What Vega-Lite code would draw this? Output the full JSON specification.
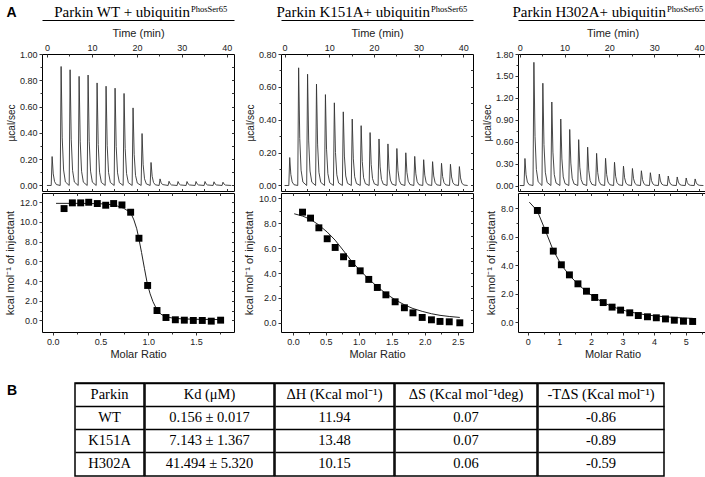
{
"$schema": "https://vega.github.io/schema/vega-lite/v6.json",
"padding": {"left": 3, "top": 0, "right": 0, "bottom": 0},
"background": "white",
"spacing": 22,
"config": {
  "view": {"stroke": "black", "strokeWidth": 1},
  "font": "Liberation Sans",
  "axis": {"labelFont": "Liberation Sans", "labelFontSize": 9, "labelColor": "#222222", "titleFont": "Liberation Sans", "titleFontSize": 11, "titleFontWeight": "normal", "titleColor": "#222222", "domain": false, "tickColor": "#333333", "tickSize": 3, "labelPadding": 2, "grid": false, "labelFlush": false, "labelOverlap": false}
},
"datasets": {
  "wt_raw": [{"t":0,"v":0},{"t":0.95,"v":0},{"t":1.15,"v":0.22},{"t":1.4,"v":0.088},{"t":1.7,"v":0.029},{"t":2.1,"v":0.007},{"t":2.95,"v":0},{"t":3.15,"v":0.905},{"t":3.4,"v":0.362},{"t":3.7,"v":0.118},{"t":4.1,"v":0.027},{"t":4.95,"v":0},{"t":5.15,"v":0.88},{"t":5.4,"v":0.352},{"t":5.7,"v":0.114},{"t":6.1,"v":0.026},{"t":6.95,"v":0},{"t":7.15,"v":0.83},{"t":7.4,"v":0.332},{"t":7.7,"v":0.108},{"t":8.1,"v":0.025},{"t":8.95,"v":0},{"t":9.15,"v":0.84},{"t":9.4,"v":0.336},{"t":9.7,"v":0.109},{"t":10.1,"v":0.025},{"t":10.95,"v":0},{"t":11.15,"v":0.78},{"t":11.4,"v":0.312},{"t":11.7,"v":0.101},{"t":12.1,"v":0.023},{"t":12.95,"v":0},{"t":13.15,"v":0.755},{"t":13.4,"v":0.302},{"t":13.7,"v":0.098},{"t":14.1,"v":0.023},{"t":14.95,"v":0},{"t":15.15,"v":0.74},{"t":15.4,"v":0.296},{"t":15.7,"v":0.096},{"t":16.1,"v":0.022},{"t":16.95,"v":0},{"t":17.15,"v":0.7},{"t":17.4,"v":0.28},{"t":17.7,"v":0.091},{"t":18.1,"v":0.021},{"t":18.95,"v":0},{"t":19.15,"v":0.59},{"t":19.4,"v":0.236},{"t":19.7,"v":0.077},{"t":20.1,"v":0.018},{"t":20.95,"v":0},{"t":21.15,"v":0.395},{"t":21.4,"v":0.158},{"t":21.7,"v":0.051},{"t":22.1,"v":0.012},{"t":22.95,"v":0},{"t":23.15,"v":0.175},{"t":23.4,"v":0.07},{"t":23.7,"v":0.023},{"t":24.1,"v":0.005},{"t":24.95,"v":0},{"t":25.15,"v":0.05},{"t":25.4,"v":0.02},{"t":25.7,"v":0.007},{"t":26.95,"v":0},{"t":27.15,"v":0.032},{"t":27.4,"v":0.013},{"t":27.7,"v":0.004},{"t":28.95,"v":0},{"t":29.15,"v":0.03},{"t":29.4,"v":0.012},{"t":29.7,"v":0.004},{"t":30.95,"v":0},{"t":31.15,"v":0.03},{"t":31.4,"v":0.012},{"t":31.7,"v":0.004},{"t":32.95,"v":0},{"t":33.15,"v":0.03},{"t":33.4,"v":0.012},{"t":33.7,"v":0.004},{"t":34.95,"v":0},{"t":35.15,"v":0.03},{"t":35.4,"v":0.012},{"t":35.7,"v":0.004},{"t":36.95,"v":0},{"t":37.15,"v":0.028},{"t":37.4,"v":0.011},{"t":37.7,"v":0.004},{"t":38.95,"v":0},{"t":39.15,"v":0.025},{"t":39.4,"v":0.01},{"t":39.7,"v":0.003},{"t":41,"v":0}],
  "k_raw": [{"t":0,"v":0},{"t":0.95,"v":0},{"t":1.15,"v":0.17},{"t":1.4,"v":0.068},{"t":1.7,"v":0.022},{"t":2.1,"v":0.005},{"t":2.95,"v":0},{"t":3.15,"v":0.716},{"t":3.4,"v":0.286},{"t":3.7,"v":0.093},{"t":4.1,"v":0.021},{"t":4.95,"v":0},{"t":5.15,"v":0.677},{"t":5.4,"v":0.271},{"t":5.7,"v":0.088},{"t":6.1,"v":0.02},{"t":6.95,"v":0},{"t":7.15,"v":0.617},{"t":7.4,"v":0.247},{"t":7.7,"v":0.08},{"t":8.1,"v":0.019},{"t":8.95,"v":0},{"t":9.15,"v":0.553},{"t":9.4,"v":0.221},{"t":9.7,"v":0.072},{"t":10.1,"v":0.017},{"t":10.95,"v":0},{"t":11.15,"v":0.503},{"t":11.4,"v":0.201},{"t":11.7,"v":0.065},{"t":12.1,"v":0.015},{"t":12.95,"v":0},{"t":13.15,"v":0.448},{"t":13.4,"v":0.179},{"t":13.7,"v":0.058},{"t":14.1,"v":0.013},{"t":14.95,"v":0},{"t":15.15,"v":0.404},{"t":15.4,"v":0.162},{"t":15.7,"v":0.053},{"t":16.1,"v":0.012},{"t":16.95,"v":0},{"t":17.15,"v":0.364},{"t":17.4,"v":0.146},{"t":17.7,"v":0.047},{"t":18.1,"v":0.011},{"t":18.95,"v":0},{"t":19.15,"v":0.322},{"t":19.4,"v":0.129},{"t":19.7,"v":0.042},{"t":20.1,"v":0.01},{"t":20.95,"v":0},{"t":21.15,"v":0.283},{"t":21.4,"v":0.113},{"t":21.7,"v":0.037},{"t":22.1,"v":0.008},{"t":22.95,"v":0},{"t":23.15,"v":0.253},{"t":23.4,"v":0.101},{"t":23.7,"v":0.033},{"t":24.1,"v":0.008},{"t":24.95,"v":0},{"t":25.15,"v":0.225},{"t":25.4,"v":0.09},{"t":25.7,"v":0.029},{"t":26.1,"v":0.007},{"t":26.95,"v":0},{"t":27.15,"v":0.199},{"t":27.4,"v":0.08},{"t":27.7,"v":0.026},{"t":28.1,"v":0.006},{"t":28.95,"v":0},{"t":29.15,"v":0.177},{"t":29.4,"v":0.071},{"t":29.7,"v":0.023},{"t":30.1,"v":0.005},{"t":30.95,"v":0},{"t":31.15,"v":0.157},{"t":31.4,"v":0.063},{"t":31.7,"v":0.02},{"t":32.1,"v":0.005},{"t":32.95,"v":0},{"t":33.15,"v":0.145},{"t":33.4,"v":0.058},{"t":33.7,"v":0.019},{"t":34.1,"v":0.004},{"t":34.95,"v":0},{"t":35.15,"v":0.135},{"t":35.4,"v":0.054},{"t":35.7,"v":0.018},{"t":36.1,"v":0.004},{"t":36.95,"v":0},{"t":37.15,"v":0.129},{"t":37.4,"v":0.052},{"t":37.7,"v":0.017},{"t":38.1,"v":0.004},{"t":38.95,"v":0},{"t":39.15,"v":0.115},{"t":39.4,"v":0.046},{"t":39.7,"v":0.015},{"t":40.1,"v":0.003},{"t":41,"v":0}],
  "h_raw": [{"t":0,"v":0},{"t":0.95,"v":0},{"t":1.15,"v":0.37},{"t":1.4,"v":0.148},{"t":1.7,"v":0.048},{"t":2.1,"v":0.011},{"t":2.95,"v":0},{"t":3.15,"v":1.686},{"t":3.4,"v":0.674},{"t":3.7,"v":0.219},{"t":4.1,"v":0.051},{"t":4.95,"v":0},{"t":5.15,"v":1.4},{"t":5.4,"v":0.56},{"t":5.7,"v":0.182},{"t":6.1,"v":0.042},{"t":6.95,"v":0},{"t":7.15,"v":1.143},{"t":7.4,"v":0.457},{"t":7.7,"v":0.149},{"t":8.1,"v":0.034},{"t":8.95,"v":0},{"t":9.15,"v":0.91},{"t":9.4,"v":0.364},{"t":9.7,"v":0.118},{"t":10.1,"v":0.027},{"t":10.95,"v":0},{"t":11.15,"v":0.767},{"t":11.4,"v":0.307},{"t":11.7,"v":0.1},{"t":12.1,"v":0.023},{"t":12.95,"v":0},{"t":13.15,"v":0.628},{"t":13.4,"v":0.251},{"t":13.7,"v":0.082},{"t":14.1,"v":0.019},{"t":14.95,"v":0},{"t":15.15,"v":0.525},{"t":15.4,"v":0.21},{"t":15.7,"v":0.068},{"t":16.1,"v":0.016},{"t":16.95,"v":0},{"t":17.15,"v":0.44},{"t":17.4,"v":0.176},{"t":17.7,"v":0.057},{"t":18.1,"v":0.013},{"t":18.95,"v":0},{"t":19.15,"v":0.372},{"t":19.4,"v":0.149},{"t":19.7,"v":0.048},{"t":20.1,"v":0.011},{"t":20.95,"v":0},{"t":21.15,"v":0.318},{"t":21.4,"v":0.127},{"t":21.7,"v":0.041},{"t":22.1,"v":0.01},{"t":22.95,"v":0},{"t":23.15,"v":0.265},{"t":23.4,"v":0.106},{"t":23.7,"v":0.034},{"t":24.1,"v":0.008},{"t":24.95,"v":0},{"t":25.15,"v":0.233},{"t":25.4,"v":0.093},{"t":25.7,"v":0.03},{"t":26.1,"v":0.007},{"t":26.95,"v":0},{"t":27.15,"v":0.202},{"t":27.4,"v":0.081},{"t":27.7,"v":0.026},{"t":28.1,"v":0.006},{"t":28.95,"v":0},{"t":29.15,"v":0.175},{"t":29.4,"v":0.07},{"t":29.7,"v":0.023},{"t":30.1,"v":0.005},{"t":30.95,"v":0},{"t":31.15,"v":0.157},{"t":31.4,"v":0.063},{"t":31.7,"v":0.02},{"t":32.1,"v":0.005},{"t":32.95,"v":0},{"t":33.15,"v":0.13},{"t":33.4,"v":0.052},{"t":33.7,"v":0.017},{"t":34.1,"v":0.004},{"t":34.95,"v":0},{"t":35.15,"v":0.117},{"t":35.4,"v":0.047},{"t":35.7,"v":0.015},{"t":36.1,"v":0.004},{"t":36.95,"v":0},{"t":37.15,"v":0.103},{"t":37.4,"v":0.041},{"t":37.7,"v":0.013},{"t":38.1,"v":0.003},{"t":38.95,"v":0},{"t":39.15,"v":0.09},{"t":39.4,"v":0.036},{"t":39.7,"v":0.012},{"t":40.1,"v":0.003},{"t":41,"v":0}],
  "wt_pts": [{"x":0.119,"y":11.35},{"x":0.206,"y":11.93},{"x":0.293,"y":11.93},{"x":0.377,"y":11.99},{"x":0.467,"y":11.86},{"x":0.555,"y":11.69},{"x":0.638,"y":11.86},{"x":0.725,"y":11.72},{"x":0.816,"y":10.98},{"x":0.903,"y":8.34},{"x":0.994,"y":3.55},{"x":1.092,"y":1.01},{"x":1.186,"y":0.3},{"x":1.284,"y":0.07},{"x":1.378,"y":0.03},{"x":1.472,"y":0.0},{"x":1.566,"y":0.0},{"x":1.66,"y":-0.07},{"x":1.758,"y":0.03}],
  "k_pts": [{"x":0.146,"y":8.9},{"x":0.268,"y":8.42},{"x":0.394,"y":7.64},{"x":0.52,"y":6.76},{"x":0.641,"y":6.06},{"x":0.768,"y":5.31},{"x":0.894,"y":4.77},{"x":1.02,"y":4.18},{"x":1.15,"y":3.49},{"x":1.28,"y":2.84},{"x":1.41,"y":2.25},{"x":1.55,"y":1.69},{"x":1.69,"y":1.21},{"x":1.82,"y":0.8},{"x":1.96,"y":0.43},{"x":2.1,"y":0.24},{"x":2.23,"y":0.11},{"x":2.37,"y":0.08},{"x":2.53,"y":0.0}],
  "h_pts": [{"x":0.306,"y":7.86},{"x":0.559,"y":6.46},{"x":0.81,"y":5.0},{"x":1.065,"y":4.04},{"x":1.32,"y":3.33},{"x":1.59,"y":2.7},{"x":1.86,"y":2.18},{"x":2.12,"y":1.74},{"x":2.39,"y":1.38},{"x":2.67,"y":1.06},{"x":2.94,"y":0.85},{"x":3.23,"y":0.66},{"x":3.5,"y":0.47},{"x":3.79,"y":0.38},{"x":4.07,"y":0.31},{"x":4.36,"y":0.23},{"x":4.64,"y":0.14},{"x":4.93,"y":0.07},{"x":5.22,"y":0.05}],
  "wt_fit": [{"x":0.035,"y":11.88},{"x":0.3,"y":11.88},{"x":0.5,"y":11.84},{"x":0.6,"y":11.76},{"x":0.68,"y":11.6},{"x":0.74,"y":11.4},{"x":0.79,"y":11.1},{"x":0.82,"y":10.85},{"x":0.85,"y":10.2},{"x":0.88,"y":9.3},{"x":0.9,"y":8.4},{"x":0.93,"y":6.9},{"x":0.96,"y":5.3},{"x":0.99,"y":3.75},{"x":1.02,"y":2.7},{"x":1.05,"y":1.9},{"x":1.09,"y":1.1},{"x":1.13,"y":0.65},{"x":1.18,"y":0.4},{"x":1.25,"y":0.25},{"x":1.35,"y":0.16},{"x":1.5,"y":0.12},{"x":1.65,"y":0.1},{"x":1.79,"y":0.09}],
  "k_fit": [{"x":0.02,"y":8.77},{"x":0.15,"y":8.58},{"x":0.27,"y":8.31},{"x":0.39,"y":7.88},{"x":0.52,"y":7.3},{"x":0.64,"y":6.65},{"x":0.77,"y":5.78},{"x":0.89,"y":4.95},{"x":1.02,"y":4.2},{"x":1.15,"y":3.52},{"x":1.28,"y":2.9},{"x":1.41,"y":2.35},{"x":1.55,"y":1.85},{"x":1.69,"y":1.45},{"x":1.82,"y":1.15},{"x":1.96,"y":0.92},{"x":2.1,"y":0.73},{"x":2.23,"y":0.6},{"x":2.37,"y":0.51},{"x":2.53,"y":0.43}],
  "h_fit": [{"x":0.05,"y":8.45},{"x":0.3,"y":7.85},{"x":0.55,"y":6.5},{"x":0.8,"y":5.1},{"x":1.05,"y":4.08},{"x":1.3,"y":3.35},{"x":1.6,"y":2.65},{"x":1.9,"y":2.08},{"x":2.2,"y":1.62},{"x":2.5,"y":1.27},{"x":2.8,"y":1.0},{"x":3.1,"y":0.8},{"x":3.4,"y":0.65},{"x":3.7,"y":0.53},{"x":4.0,"y":0.45},{"x":4.3,"y":0.39},{"x":4.6,"y":0.34},{"x":4.9,"y":0.3},{"x":5.22,"y":0.27}],
  "table": [
    {"col":"c1","row":"h","text":"Parkin"},{"col":"c1","row":"WT","text":"WT"},{"col":"c1","row":"K151A","text":"K151A"},{"col":"c1","row":"H302A","text":"H302A"},
    {"col":"c2","row":"h","text":"Kd (μM)"},{"col":"c2","row":"WT","text":"0.156 ± 0.017"},{"col":"c2","row":"K151A","text":"7.143 ± 1.367"},{"col":"c2","row":"H302A","text":"41.494 ± 5.320"},
    {"col":"c3","row":"h","text":"ΔH (Kcal mol⁻¹)"},{"col":"c3","row":"WT","text":"11.94"},{"col":"c3","row":"K151A","text":"13.48"},{"col":"c3","row":"H302A","text":"10.15"},
    {"col":"c4","row":"h","text":"ΔS (Kcal mol⁻¹deg)"},{"col":"c4","row":"WT","text":"0.07"},{"col":"c4","row":"K151A","text":"0.07"},{"col":"c4","row":"H302A","text":"0.06"},
    {"col":"c5","row":"h","text":"-TΔS (Kcal mol⁻¹)"},{"col":"c5","row":"WT","text":"-0.86"},{"col":"c5","row":"K151A","text":"-0.89"},{"col":"c5","row":"H302A","text":"-0.59"}
  ]
},
"vconcat": [
 {"hconcat": [
  {"vconcat": [
    {"width": 192, "height": 26, "view": {"stroke": null},
     "data": {"values": [{"a": "A", "main": "Parkin WT + ubiquitin", "sup": "PhosSer65"}]},
     "layer": [
       {"mark": {"type": "text", "font": "Liberation Serif", "fontSize": 15, "align": "right", "baseline": "alphabetic", "color": "black"},
        "encoding": {"x": {"datum": 0.771, "type": "quantitative", "scale": {"domain": [0, 1], "nice": false, "zero": false}, "axis": {"orient": "bottom", "offset": -6, "domain": true, "domainColor": "black", "domainWidth": 1.2, "ticks": false, "labels": false, "grid": false, "title": null}},
                     "y": {"datum": 9, "type": "quantitative", "scale": {"domain": [0, 26], "nice": false, "zero": false}, "axis": null},
                     "text": {"field": "main"}}},
       {"mark": {"type": "text", "font": "Liberation Serif", "fontSize": 8.5, "align": "left", "baseline": "alphabetic", "color": "black"},
        "encoding": {"x": {"datum": 0.776, "type": "quantitative"}, "y": {"datum": 14.5, "type": "quantitative"}, "text": {"field": "sup"}}},
       {"mark": {"type": "text", "font": "Liberation Sans", "fontSize": 14, "fontWeight": "bold", "align": "center", "baseline": "alphabetic", "color": "black", "dx": -30.5},
        "encoding": {"x": {"datum": 0, "type": "quantitative"}, "y": {"datum": 9.5, "type": "quantitative"}, "text": {"field": "a"}}}
     ]},
    {"width": 192, "height": 137, "data": {"name": "wt_raw"},
     "resolve": {"axis": {"x": "independent", "y": "independent"}},
     "layer": [
       {"mark": {"type": "line", "color": "#333333", "strokeWidth": 0.9},
        "encoding": {
          "x": {"field": "t", "type": "quantitative", "scale": {"domain": [-1.1, 41.6], "nice": false, "zero": false}, "axis": {"orient": "top", "title": "Time (min)", "values": [0, 10, 20, 30, 40], "format": "d", "tickSize": -3, "labelPadding": 5, "titlePadding": 5}},
          "y": {"field": "v", "type": "quantitative", "scale": {"domain": [-0.042, 1.0], "nice": false, "zero": false}, "axis": {"title": "µcal/sec", "values": [0, 0.2, 0.4, 0.6, 0.8, 1.0], "format": ".2f", "titleFontSize": 10, "titlePadding": 3}}}},
       {"mark": {"type": "line", "opacity": 0},
        "encoding": {
          "x": {"field": "t", "type": "quantitative", "axis": {"orient": "bottom", "values": [0, 5, 10, 15, 20, 25, 30, 35, 40], "labels": false, "tickSize": -2.5, "title": null}},
          "y": {"field": "v", "type": "quantitative", "axis": {"orient": "right", "values": [0, 0.1, 0.2, 0.3, 0.4, 0.5, 0.6, 0.7, 0.8, 0.9], "labels": false, "tickSize": -2.5, "title": null}}}},
       {"mark": {"type": "line", "opacity": 0},
        "encoding": {
          "x": {"field": "t", "type": "quantitative", "axis": {"orient": "top", "values": [5, 15, 25, 35], "labels": false, "tickSize": -2, "title": null}},
          "y": {"field": "v", "type": "quantitative", "axis": {"orient": "left", "values": [0.1, 0.3, 0.5, 0.7, 0.9], "labels": false, "tickSize": 2, "title": null}}}}
     ]},
    {"width": 192, "height": 139,
     "resolve": {"axis": {"x": "independent", "y": "independent"}},
     "layer": [
       {"data": {"name": "wt_fit"}, "mark": {"type": "line", "color": "#222222", "strokeWidth": 1},
        "encoding": {"x": {"field": "x", "type": "quantitative", "scale": {"domain": [-0.112, 1.898], "nice": false, "zero": false}, "axis": {"title": "Molar Ratio", "values": [0, 0.5, 1, 1.5], "format": ".1f", "titlePadding": 2, "labelOverlap": false}},
                     "y": {"field": "y", "type": "quantitative", "scale": {"domain": [-1.17, 12.93], "nice": false, "zero": false}, "axis": {"title": "kcal mol⁻¹ of injectant", "values": [0, 2, 4, 6, 8, 10, 12], "format": ".1f", "titlePadding": 4, "labelOverlap": false}}}},
       {"data": {"name": "wt_pts"}, "mark": {"type": "square", "size": 48, "color": "black", "filled": true, "opacity": 1},
        "encoding": {"x": {"field": "x", "type": "quantitative", "axis": null}, "y": {"field": "y", "type": "quantitative", "axis": null}}},
       {"data": {"name": "wt_fit"}, "mark": {"type": "line", "opacity": 0},
        "encoding": {"x": {"field": "x", "type": "quantitative", "axis": {"orient": "top", "values": [0, 0.25, 0.5, 0.75, 1, 1.25, 1.5, 1.75], "labels": false, "tickSize": -2.5, "title": null}},
                     "y": {"field": "y", "type": "quantitative", "axis": {"orient": "right", "values": [0, 1, 2, 3, 4, 5, 6, 7, 8, 9, 10, 11, 12], "labels": false, "tickSize": -2.5, "title": null}}}},
       {"data": {"name": "wt_fit"}, "mark": {"type": "line", "opacity": 0},
        "encoding": {"x": {"field": "x", "type": "quantitative", "axis": {"orient": "bottom", "values": [0.25, 0.75, 1.25, 1.75], "labels": false, "tickSize": 2, "title": null}},
                     "y": {"field": "y", "type": "quantitative", "axis": {"orient": "left", "values": [1, 3, 5, 7, 9, 11], "labels": false, "tickSize": 2, "title": null}}}}
     ]}
  ], "spacing": 0},
  {"vconcat": [
    {"width": 192, "height": 26, "view": {"stroke": null},
     "data": {"values": [{"main": "Parkin K151A+ ubiquitin", "sup": "PhosSer65"}]},
     "layer": [
       {"mark": {"type": "text", "font": "Liberation Serif", "fontSize": 15, "align": "right", "baseline": "alphabetic", "color": "black"},
        "encoding": {"x": {"datum": 0.776, "type": "quantitative", "scale": {"domain": [0, 1], "nice": false, "zero": false}, "axis": {"orient": "bottom", "offset": -6, "domain": true, "domainColor": "black", "domainWidth": 1.2, "ticks": false, "labels": false, "grid": false, "title": null}},
                     "y": {"datum": 9, "type": "quantitative", "scale": {"domain": [0, 26], "nice": false, "zero": false}, "axis": null},
                     "text": {"field": "main"}}},
       {"mark": {"type": "text", "font": "Liberation Serif", "fontSize": 8.5, "align": "left", "baseline": "alphabetic", "color": "black"},
        "encoding": {"x": {"datum": 0.781, "type": "quantitative"}, "y": {"datum": 14.5, "type": "quantitative"}, "text": {"field": "sup"}}}
     ]},
    {"width": 192, "height": 137, "data": {"name": "k_raw"},
     "resolve": {"axis": {"x": "independent", "y": "independent"}},
     "layer": [
       {"mark": {"type": "line", "color": "#333333", "strokeWidth": 0.9},
        "encoding": {
          "x": {"field": "t", "type": "quantitative", "scale": {"domain": [-0.8, 42.2], "nice": false, "zero": false}, "axis": {"orient": "top", "title": "Time (min)", "values": [0, 10, 20, 30, 40], "format": "d", "tickSize": -3, "labelPadding": 5, "titlePadding": 5}},
          "y": {"field": "v", "type": "quantitative", "scale": {"domain": [-0.0335, 0.8], "nice": false, "zero": false}, "axis": {"title": "µcal/sec", "values": [0, 0.2, 0.4, 0.6, 0.8], "format": ".2f", "titleFontSize": 10, "titlePadding": 3}}}},
       {"mark": {"type": "line", "opacity": 0},
        "encoding": {
          "x": {"field": "t", "type": "quantitative", "axis": {"orient": "bottom", "values": [0, 5, 10, 15, 20, 25, 30, 35, 40], "labels": false, "tickSize": -2.5, "title": null}},
          "y": {"field": "v", "type": "quantitative", "axis": {"orient": "right", "values": [0, 0.1, 0.2, 0.3, 0.4, 0.5, 0.6, 0.7], "labels": false, "tickSize": -2.5, "title": null}}}},
       {"mark": {"type": "line", "opacity": 0},
        "encoding": {
          "x": {"field": "t", "type": "quantitative", "axis": {"orient": "top", "values": [5, 15, 25, 35], "labels": false, "tickSize": -2, "title": null}},
          "y": {"field": "v", "type": "quantitative", "axis": {"orient": "left", "values": [0.1, 0.3, 0.5, 0.7], "labels": false, "tickSize": 2, "title": null}}}}
     ]},
    {"width": 192, "height": 139,
     "resolve": {"axis": {"x": "independent", "y": "independent"}},
     "layer": [
       {"data": {"name": "k_fit"}, "mark": {"type": "line", "color": "#222222", "strokeWidth": 1},
        "encoding": {"x": {"field": "x", "type": "quantitative", "scale": {"domain": [-0.18, 2.73], "nice": false, "zero": false}, "axis": {"title": "Molar Ratio", "values": [0, 0.5, 1, 1.5, 2, 2.5], "format": ".1f", "titlePadding": 2, "labelOverlap": false}},
                     "y": {"field": "y", "type": "quantitative", "scale": {"domain": [-0.74, 10.44], "nice": false, "zero": false}, "axis": {"title": "kcal mol⁻¹ of injectant", "values": [0, 2, 4, 6, 8, 10], "format": ".1f", "titlePadding": 4, "labelOverlap": false}}}},
       {"data": {"name": "k_pts"}, "mark": {"type": "square", "size": 48, "color": "black", "filled": true, "opacity": 1},
        "encoding": {"x": {"field": "x", "type": "quantitative", "axis": null}, "y": {"field": "y", "type": "quantitative", "axis": null}}},
       {"data": {"name": "k_fit"}, "mark": {"type": "line", "opacity": 0},
        "encoding": {"x": {"field": "x", "type": "quantitative", "axis": {"orient": "top", "values": [0, 0.25, 0.5, 0.75, 1, 1.25, 1.5, 1.75, 2, 2.25, 2.5], "labels": false, "tickSize": -2.5, "title": null}},
                     "y": {"field": "y", "type": "quantitative", "axis": {"orient": "right", "values": [0, 1, 2, 3, 4, 5, 6, 7, 8, 9, 10], "labels": false, "tickSize": -2.5, "title": null}}}},
       {"data": {"name": "k_fit"}, "mark": {"type": "line", "opacity": 0},
        "encoding": {"x": {"field": "x", "type": "quantitative", "axis": {"orient": "bottom", "values": [0.25, 0.75, 1.25, 1.75, 2.25], "labels": false, "tickSize": 2, "title": null}},
                     "y": {"field": "y", "type": "quantitative", "axis": {"orient": "left", "values": [1, 3, 5, 7, 9], "labels": false, "tickSize": 2, "title": null}}}}
     ]}
  ], "spacing": 0},
  {"vconcat": [
    {"width": 189, "height": 26, "view": {"stroke": null},
     "data": {"values": [{"main": "Parkin H302A+ ubiquitin", "sup": "PhosSer65"}]},
     "layer": [
       {"mark": {"type": "text", "font": "Liberation Serif", "fontSize": 15, "align": "right", "baseline": "alphabetic", "color": "black"},
        "encoding": {"x": {"datum": 0.783, "type": "quantitative", "scale": {"domain": [0, 1], "nice": false, "zero": false}, "axis": {"orient": "bottom", "offset": -6, "domain": true, "domainColor": "black", "domainWidth": 1.2, "ticks": false, "labels": false, "grid": false, "title": null}},
                     "y": {"datum": 9, "type": "quantitative", "scale": {"domain": [0, 26], "nice": false, "zero": false}, "axis": null},
                     "text": {"field": "main"}}},
       {"mark": {"type": "text", "font": "Liberation Serif", "fontSize": 8.5, "align": "left", "baseline": "alphabetic", "color": "black"},
        "encoding": {"x": {"datum": 0.788, "type": "quantitative"}, "y": {"datum": 14.5, "type": "quantitative"}, "text": {"field": "sup"}}}
     ]},
    {"width": 189, "height": 137, "data": {"name": "h_raw"},
     "resolve": {"axis": {"x": "independent", "y": "independent"}},
     "layer": [
       {"mark": {"type": "line", "color": "#333333", "strokeWidth": 0.9},
        "encoding": {
          "x": {"field": "t", "type": "quantitative", "scale": {"domain": [-0.4, 41.8], "nice": false, "zero": false}, "axis": {"orient": "top", "title": "Time (min)", "values": [0, 10, 20, 30, 40], "format": "d", "tickSize": -3, "labelPadding": 5, "titlePadding": 5}},
          "y": {"field": "v", "type": "quantitative", "scale": {"domain": [-0.075, 1.8], "nice": false, "zero": false}, "axis": {"title": "µcal/sec", "values": [0, 0.3, 0.6, 0.9, 1.2, 1.5, 1.8], "format": ".2f", "titleFontSize": 10, "titlePadding": 3}}}},
       {"mark": {"type": "line", "opacity": 0},
        "encoding": {
          "x": {"field": "t", "type": "quantitative", "axis": {"orient": "bottom", "values": [0, 5, 10, 15, 20, 25, 30, 35, 40], "labels": false, "tickSize": -2.5, "title": null}},
          "y": {"field": "v", "type": "quantitative", "axis": {"orient": "right", "values": [0, 0.15, 0.3, 0.45, 0.6, 0.75, 0.9, 1.05, 1.2, 1.35, 1.5, 1.65], "labels": false, "tickSize": -2.5, "title": null}}}},
       {"mark": {"type": "line", "opacity": 0},
        "encoding": {
          "x": {"field": "t", "type": "quantitative", "axis": {"orient": "top", "values": [5, 15, 25, 35], "labels": false, "tickSize": -2, "title": null}},
          "y": {"field": "v", "type": "quantitative", "axis": {"orient": "left", "values": [0.15, 0.45, 0.75, 1.05, 1.35, 1.65], "labels": false, "tickSize": 2, "title": null}}}}
     ]},
    {"width": 189, "height": 139,
     "resolve": {"axis": {"x": "independent", "y": "independent"}},
     "layer": [
       {"data": {"name": "h_fit"}, "mark": {"type": "line", "color": "#222222", "strokeWidth": 1},
        "encoding": {"x": {"field": "x", "type": "quantitative", "scale": {"domain": [-0.307, 5.674], "nice": false, "zero": false}, "axis": {"title": "Molar Ratio", "values": [0, 1, 2, 3, 4, 5], "format": "d", "titlePadding": 2, "labelOverlap": false}},
                     "y": {"field": "y", "type": "quantitative", "scale": {"domain": [-0.69, 9.09], "nice": false, "zero": false}, "axis": {"title": "kcal mol⁻¹ of injectant", "values": [0, 2, 4, 6, 8], "format": ".1f", "titlePadding": 4, "labelOverlap": false}}}},
       {"data": {"name": "h_pts"}, "mark": {"type": "square", "size": 48, "color": "black", "filled": true, "opacity": 1},
        "encoding": {"x": {"field": "x", "type": "quantitative", "axis": null}, "y": {"field": "y", "type": "quantitative", "axis": null}}},
       {"data": {"name": "h_fit"}, "mark": {"type": "line", "opacity": 0},
        "encoding": {"x": {"field": "x", "type": "quantitative", "axis": {"orient": "top", "values": [0, 0.5, 1, 1.5, 2, 2.5, 3, 3.5, 4, 4.5, 5, 5.5], "labels": false, "tickSize": -2.5, "title": null}},
                     "y": {"field": "y", "type": "quantitative", "axis": {"orient": "right", "values": [0, 1, 2, 3, 4, 5, 6, 7, 8, 9], "labels": false, "tickSize": -2.5, "title": null}}}},
       {"data": {"name": "h_fit"}, "mark": {"type": "line", "opacity": 0},
        "encoding": {"x": {"field": "x", "type": "quantitative", "axis": {"orient": "bottom", "values": [0.5, 1.5, 2.5, 3.5, 4.5, 5.5], "labels": false, "tickSize": 2, "title": null}},
                     "y": {"field": "y", "type": "quantitative", "axis": {"orient": "left", "values": [1, 3, 5, 7], "labels": false, "tickSize": 2, "title": null}}}}
     ]}
  ], "spacing": 0}
 ], "spacing": 7},
 {"hconcat": [
   {"width": 1, "height": 93, "view": {"stroke": null},
    "data": {"values": [{"row": "h", "label": "B"}]},
    "mark": {"type": "text", "font": "Liberation Sans", "fontSize": 14, "fontWeight": "bold", "align": "center", "baseline": "middle", "color": "black", "dx": -30.5, "dy": -4},
    "encoding": {"y": {"field": "row", "type": "nominal", "scale": {"type": "band", "domain": ["h", "WT", "K151A", "H302A"], "paddingInner": 0, "paddingOuter": 0}, "axis": null},
                 "text": {"field": "label"}}},
   {"hconcat": [
     {"width": 69, "height": 93, "data": {"name": "table"}, "transform": [{"filter": "datum.col === 'c1'"}], "view": {"stroke": "black", "strokeWidth": 1.5},
      "mark": {"type": "text", "font": "Liberation Serif", "fontSize": 14.5, "color": "black", "baseline": "middle"},
      "encoding": {"y": {"field": "row", "type": "nominal", "scale": {"type": "band", "domain": ["h", "WT", "K151A", "H302A"], "paddingInner": 0, "paddingOuter": 0}, "axis": {"grid": true, "bandPosition": 0, "gridColor": "black", "gridWidth": 1.5, "gridOpacity": 1, "labels": false, "ticks": false, "domain": false, "title": null}}, "text": {"field": "text"}}},
     {"width": 129, "height": 93, "data": {"name": "table"}, "transform": [{"filter": "datum.col === 'c2'"}], "view": {"stroke": "black", "strokeWidth": 1.5},
      "mark": {"type": "text", "font": "Liberation Serif", "fontSize": 14.5, "color": "black", "baseline": "middle"},
      "encoding": {"y": {"field": "row", "type": "nominal", "scale": {"type": "band", "domain": ["h", "WT", "K151A", "H302A"], "paddingInner": 0, "paddingOuter": 0}, "axis": {"grid": true, "bandPosition": 0, "gridColor": "black", "gridWidth": 1.5, "gridOpacity": 1, "labels": false, "ticks": false, "domain": false, "title": null}}, "text": {"field": "text"}}},
     {"width": 119, "height": 93, "data": {"name": "table"}, "transform": [{"filter": "datum.col === 'c3'"}], "view": {"stroke": "black", "strokeWidth": 1.5},
      "mark": {"type": "text", "font": "Liberation Serif", "fontSize": 14.5, "color": "black", "baseline": "middle"},
      "encoding": {"y": {"field": "row", "type": "nominal", "scale": {"type": "band", "domain": ["h", "WT", "K151A", "H302A"], "paddingInner": 0, "paddingOuter": 0}, "axis": {"grid": true, "bandPosition": 0, "gridColor": "black", "gridWidth": 1.5, "gridOpacity": 1, "labels": false, "ticks": false, "domain": false, "title": null}}, "text": {"field": "text"}}},
     {"width": 142, "height": 93, "data": {"name": "table"}, "transform": [{"filter": "datum.col === 'c4'"}], "view": {"stroke": "black", "strokeWidth": 1.5},
      "mark": {"type": "text", "font": "Liberation Serif", "fontSize": 14.5, "color": "black", "baseline": "middle"},
      "encoding": {"y": {"field": "row", "type": "nominal", "scale": {"type": "band", "domain": ["h", "WT", "K151A", "H302A"], "paddingInner": 0, "paddingOuter": 0}, "axis": {"grid": true, "bandPosition": 0, "gridColor": "black", "gridWidth": 1.5, "gridOpacity": 1, "labels": false, "ticks": false, "domain": false, "title": null}}, "text": {"field": "text"}}},
     {"width": 126, "height": 93, "data": {"name": "table"}, "transform": [{"filter": "datum.col === 'c5'"}], "view": {"stroke": "black", "strokeWidth": 1.5},
      "mark": {"type": "text", "font": "Liberation Serif", "fontSize": 14.5, "color": "black", "baseline": "middle"},
      "encoding": {"y": {"field": "row", "type": "nominal", "scale": {"type": "band", "domain": ["h", "WT", "K151A", "H302A"], "paddingInner": 0, "paddingOuter": 0}, "axis": {"grid": true, "bandPosition": 0, "gridColor": "black", "gridWidth": 1.5, "gridOpacity": 1, "labels": false, "ticks": false, "domain": false, "title": null}}, "text": {"field": "text"}}}
   ], "spacing": -2}
 ], "spacing": 31}
]
}
